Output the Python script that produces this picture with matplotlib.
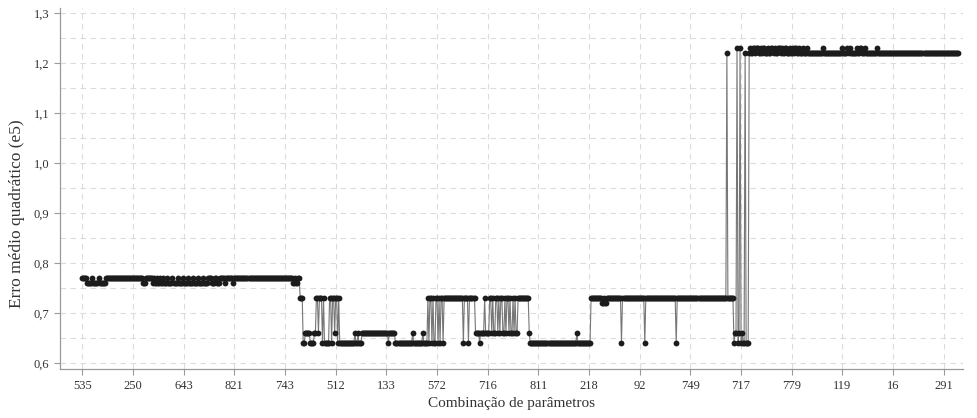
import numpy as np
import matplotlib
matplotlib.use("Agg")
import matplotlib.pyplot as plt
from matplotlib.ticker import MultipleLocator

plt.rcParams['font.family'] = ['Liberation Serif', 'DejaVu Serif']

# ============================================================
# data (run lengths: (value, count))
# ============================================================
runs_start = [
    (0.77, 5), (0.76, 5), (0.77, 1), (0.76, 5), (0.77, 1), (0.76, 6),
    (0.77, 37), (0.76, 3), (0.77, 7),
    (0.76, 1), (0.77, 1), (0.76, 2), (0.77, 1), (0.76, 2), (0.77, 1),
    (0.76, 2), (0.77, 1), (0.76, 3), (0.77, 1),
    (0.76, 4), (0.77, 1), (0.76, 4), (0.77, 1), (0.76, 4), (0.77, 1),
    (0.76, 4), (0.77, 1), (0.76, 4), (0.77, 1), (0.76, 4), (0.77, 1),
    (0.76, 4), (0.77, 1), (0.76, 4), (0.77, 1),
    (0.77, 3), (0.76, 3), (0.77, 2), (0.76, 3),
    (0.77, 5), (0.76, 1), (0.77, 7), (0.76, 1), (0.77, 58),
    (0.76, 2), (0.77, 1), (0.76, 2), (0.77, 2), (0.73, 3),
]

runs_low = [
    (0.64, 2), (0.66, 5), (0.64, 4), (0.66, 2), (0.73, 2), (0.66, 1),
    (0.73, 3), (0.64, 1), (0.73, 1), (0.64, 5), (0.73, 2), (0.64, 1),
    (0.73, 2), (0.66, 1), (0.73, 2), (0.64, 1), (0.73, 1), (0.64, 15),
    (0.66, 1), (0.64, 2), (0.66, 1), (0.64, 3), (0.66, 26), (0.64, 1),
    (0.66, 6), (0.64, 17), (0.66, 1), (0.64, 9), (0.66, 1), (0.64, 4),
    (0.73, 1),
    (0.64, 1), (0.73, 2), (0.64, 1), (0.73, 1), (0.64, 2), (0.73, 2),
    (0.64, 1), (0.73, 1), (0.64, 1), (0.73, 2), (0.64, 1),
    (0.73, 19), (0.64, 1), (0.73, 4), (0.64, 1), (0.73, 6),
    (0.66, 4), (0.64, 1), (0.66, 4), (0.73, 1), (0.66, 4),
    (0.73, 2), (0.66, 1), (0.73, 1), (0.66, 2), (0.73, 2), (0.66, 1),
    (0.73, 1), (0.66, 1), (0.73, 2), (0.66, 2), (0.73, 1), (0.66, 1),
    (0.73, 2), (0.66, 1), (0.73, 1), (0.66, 2), (0.73, 1), (0.66, 1),
    (0.73, 1), (0.66, 2),
    (0.73, 11), (0.66, 1),
]

runs_mid = [
    (0.64, 46), (0.66, 1), (0.64, 13),
    (0.73, 11), (0.72, 2), (0.73, 1), (0.72, 2), (0.73, 14),
    (0.64, 1), (0.73, 22), (0.64, 1), (0.73, 30), (0.64, 1), (0.73, 49),
]

runs_jump = [
    (1.22, 1), (0.73, 6), (0.64, 1), (0.66, 2), (1.23, 1), (0.64, 1),
    (0.66, 1), (1.23, 1), (0.64, 1), (0.66, 1), (0.64, 2), (1.22, 1),
    (0.64, 3), (1.22, 1),
]

runs_high = [
    (1.23, 1), (1.22, 2), (1.23, 2), (1.22, 1), (1.23, 3), (1.22, 2),
    (1.23, 1), (1.22, 1), (1.23, 2), (1.22, 3), (1.23, 1), (1.22, 2),
    (1.23, 2), (1.22, 1), (1.23, 1), (1.22, 2), (1.23, 3), (1.22, 1),
    (1.23, 1), (1.22, 2), (1.23, 2), (1.22, 3), (1.23, 1), (1.22, 2),
    (1.23, 1), (1.22, 1), (1.23, 2), (1.22, 2), (1.23, 1), (1.22, 3),
    (1.23, 1), (1.22, 3), (1.23, 1), (1.22, 2),
    (1.22, 13), (1.23, 1), (1.22, 18), (1.23, 1), (1.22, 4), (1.23, 1),
    (1.22, 1), (1.23, 1), (1.22, 6), (1.23, 1), (1.22, 2), (1.23, 2),
    (1.22, 3), (1.23, 1), (1.22, 11), (1.23, 1), (1.22, 80),
]

x_tick_labels = ["535", "250", "643", "821", "743", "512", "133", "572", "716",
                 "811", "218", "92", "749", "717", "779", "119", "16", "291"]
y_ticks = [0.6, 0.7, 0.8, 0.9, 1.0, 1.1, 1.2, 1.3]
y_tick_labels = ["0,6", "0,7", "0,8", "0,9", "1,0", "1,1", "1,2", "1,3"]

# ============================================================
# build series
# ============================================================
runs = runs_start + runs_low + runs_mid + runs_jump + runs_high
vals = np.array([v for v, n in runs])
lens = np.array([n for v, n in runs])
erro = np.repeat(vals, lens)
idx = np.arange(len(erro))

# ============================================================
# plot
# ============================================================
fig = plt.figure(figsize=(9.77, 4.18), dpi=100)
ax = fig.add_axes([0.0614, 0.117, 0.9243, 0.864])

ax.plot(idx, erro, color="#767676", lw=0.8, zorder=2)
ax.plot(idx, erro, ls="none", marker="o", ms=4.2, mfc="#1c1c1c",
        mec="#1c1c1c", mew=0, zorder=3)

ax.set_xlim(-22, 869)
ax.set_ylim(0.588, 1.31)

ax.set_xticks(np.arange(0, 50 * len(x_tick_labels), 50))
ax.set_xticklabels(x_tick_labels)
ax.set_yticks(y_ticks)
ax.set_yticklabels(y_tick_labels)
ax.yaxis.set_minor_locator(MultipleLocator(0.05))

ax.grid(True, which="major", ls=(0, (5, 4)), color="#dcdcdc", lw=0.8)
ax.grid(True, which="minor", axis="y", ls=(0, (5, 4)), color="#dcdcdc", lw=0.8)
ax.set_axisbelow(True)

for s in ["top", "right"]:
    ax.spines[s].set_visible(False)
for s in ["left", "bottom"]:
    ax.spines[s].set_color("#9a9a9a")
    ax.spines[s].set_linewidth(0.9)

ax.tick_params(axis="both", which="major", colors="#9a9a9a", length=4,
               width=0.8, labelsize=9, labelcolor="#333333")
ax.tick_params(axis="y", which="minor", length=0)

ax.set_xlabel("Combinação de parâmetros", fontsize=11, color="#333333")
ax.set_ylabel("Erro médio quadrático (e5)", fontsize=12.5, color="#333333")
ax.yaxis.set_label_coords(-0.039, 0.43)

plt.savefig("out.png", dpi=100)
